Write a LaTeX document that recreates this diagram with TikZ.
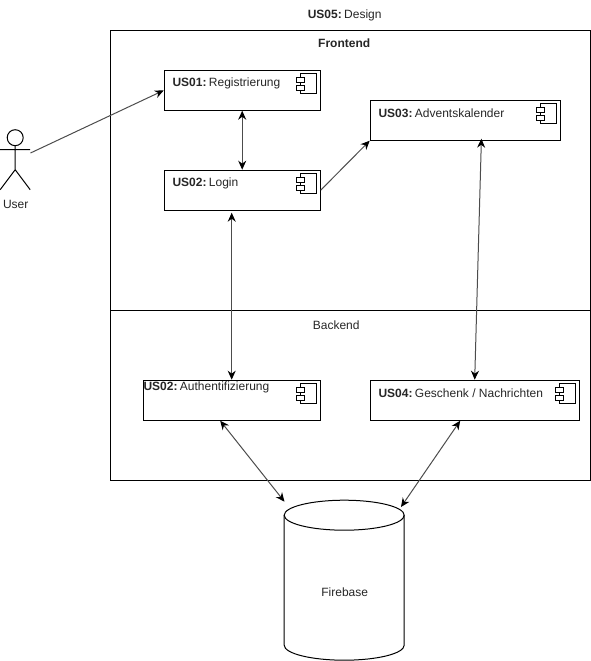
\documentclass[tikz,border=0pt]{standalone}
\usepackage{fontspec}
\setmainfont{Liberation Sans}
\usetikzlibrary{arrows.meta,calc}
\newcommand{\uslabel}[2]{\textbf{#1}\hspace{2.4pt}#2}
\tikzset{
  x=1pt,y=-1pt,
  every path/.style={line width=1pt},
  comp/.style={draw,minimum height=40pt,inner sep=0pt,anchor=north west},
  frame/.style={draw,inner sep=0pt,anchor=north west},
  txt/.style={inner sep=0pt,font=\fontsize{12}{14}\selectfont,text=black!85},
  ltxt/.style={txt,anchor=west},
  link/.style={-{Stealth[length=9pt,width=8pt,color=black]},draw=black!70},
  blink/.style={{Stealth[length=9pt,width=8pt,color=black]}-{Stealth[length=9pt,width=8pt,color=black]},draw=black!70},
  pics/icon/.style={code={
    \draw (-20,4) rectangle (-4,24);
    \draw[fill=white] (-24,8) rectangle (-16,12.5);
    \draw[fill=white] (-24,16) rectangle (-16,20.5);
  }}
}
\begin{document}
\begin{tikzpicture}
\useasboundingbox (0.8,0.8) rectangle (591.8,661.8);
% containers
\node[frame,minimum width=480pt,minimum height=280pt] (front) at (110.5,30.5) {};
\node[frame,minimum width=480pt,minimum height=170pt] (back) at (110.5,310.5) {};
\node[txt] (title) at (345.5,16) {\uslabel{US05:}{Design}};
\node[txt] (fronttxt) at (345,44) {\textbf{Frontend}};
\node[txt] (backtxt) at (337,326) {Backend};
% components
\node[comp,minimum width=156pt] (us01) at (164.5,70.5) {};
\node[comp,minimum width=156pt] (login) at (164.5,170.5) {};
\node[comp,minimum width=190pt] (us03) at (370.5,100.5) {};
\node[comp,minimum width=177pt] (auth) at (143.5,380.5) {};
\node[comp,minimum width=209pt] (us04) at (370.5,380.5) {};
\path (us01.north east) pic {icon};
\path (login.north east) pic {icon};
\path (us03.north east) pic {icon};
\path (auth.north east) pic {icon};
\path (us04.north east) pic {icon};
\node[ltxt] (t1) at (172.8,84) {\uslabel{US01:}{Registrierung}};
\node[ltxt] (t2) at (172.8,184) {\uslabel{US02:}{Login}};
\node[ltxt] (t3) at (378.8,114) {\uslabel{US03:}{Adventskalender}};
\node[ltxt] (t4) at (143.8,388) {\uslabel{US02:}{Authentifizierung}};
\node[ltxt] (t5) at (378.8,394) {\uslabel{US04:}{Geschenk / Nachrichten}};
% actor
\coordinate (head) at (16,138.5);
\draw (head) circle (8);
\draw (16,146.5) -- (16,170.5) (1,150.5) -- (31,150.5) (1,190.5) -- (16,170.5) -- (31,190.5);
\node[txt] (usertxt) at (16.5,205) {User};
\coordinate (user) at (31.3,153.8);
% database
\node[minimum width=120pt,minimum height=160pt,inner sep=0pt,anchor=north west] (db) at (285,501) {};
\draw (285,516) arc[start angle=180,end angle=0,x radius=60,y radius=15];
\draw (285,516) arc[start angle=180,end angle=360,x radius=60,y radius=15];
\draw (285,516) -- (285,646) arc[start angle=180,end angle=0,x radius=60,y radius=15] -- (405,516);
\node[txt] (dbtxt) at ($(db.center)+(0,12)$) {Firebase};
\coordinate (dbl) at (285.3,502.5);
\coordinate (dbr) at (401.8,507.8);
% connectors
\draw[link] (user) -- ($(us01.west)+(0,0.2)$);
\draw[link] (login.east) -- (us03.south west);
\draw[blink] (us01.south) -- (login.north);
\draw[blink] ($(login.south)+(-10.5,2)$) -- (auth.north);
\draw[blink] ($(us03.south)+(16.2,-2)$) -- (us04.north);
\draw[blink] ($(auth.south west)+(77.5,0)$) -- (dbl);
\draw[blink] ($(us04.south west)+(90.5,0)$) -- (dbr);
\end{tikzpicture}
\end{document}
